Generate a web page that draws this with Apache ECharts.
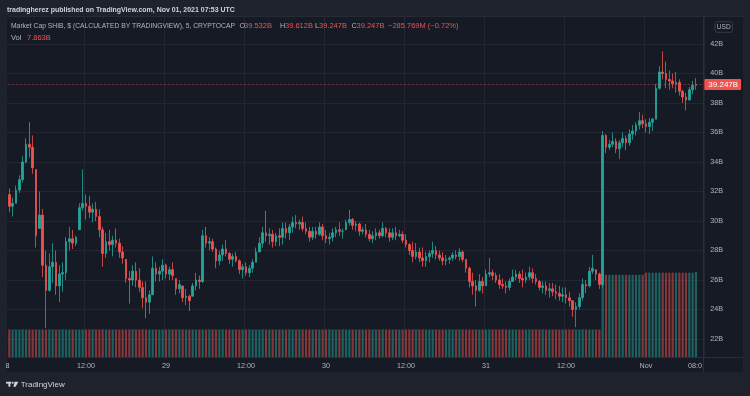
<!DOCTYPE html>
<html><head><meta charset="utf-8">
<script src="https://cdn.jsdelivr.net/npm/echarts@6/dist/echarts.min.js"></script>
<style>html,body{margin:0;padding:0;background:#1e222d;}#c{width:750px;height:396px;}</style>
</head><body><div id="c"></div>
<script>
// 30-minute candles, Oct 28 00:30 UTC .. Nov 1 07:30 UTC (values in billions USD)
const opens=[
31.8,31.0,31.2,32.1,32.8,34.0,35.2,35.0,33.5,29.5,
30.4,27.0,25.3,26.9,27.2,25.6,26.4,26.5,28.6,28.8,
28.5,29.4,30.9,31.2,31.0,30.6,30.8,30.3,29.4,27.8,
28.6,28.4,28.7,28.5,27.9,27.4,26.1,26.0,26.6,26.0,
25.5,24.8,24.5,25.0,26.8,26.4,26.6,27.0,26.4,26.7,
26.1,25.4,25.6,24.8,24.9,24.9,25.6,26.0,25.9,29.0,
28.5,28.6,28.1,27.3,27.7,28.1,27.8,27.4,27.6,27.3,
26.7,26.9,26.5,26.8,27.2,27.9,28.5,29.2,29.0,29.1,
28.6,29.0,28.9,29.5,29.2,29.6,29.9,29.8,29.9,29.5,
29.3,28.9,29.3,29.1,29.6,29.0,28.8,28.9,29.2,29.4,
29.3,29.4,29.9,30.1,29.7,29.8,29.3,29.4,29.1,28.8,
29.0,29.2,29.0,29.5,29.2,28.9,29.2,29.0,29.1,28.7,
28.4,28.0,27.6,27.9,27.5,27.3,27.6,27.8,28.0,27.7,
27.5,27.3,27.4,27.5,27.7,27.6,27.9,27.4,26.8,25.9,
25.6,25.3,25.9,25.6,26.4,26.5,26.3,26.0,25.7,25.6,
25.5,25.9,26.2,26.4,26.1,26.0,26.2,26.5,26.1,25.9,
25.5,25.6,25.3,25.4,25.2,25.1,24.9,25.0,24.8,24.6,
24.0,24.2,24.8,25.7,25.6,26.6,26.7,26.4,25.7,35.8,
35.0,35.2,35.4,34.9,35.3,35.6,35.3,35.9,36.1,36.5,
36.8,36.6,36.4,36.7,36.9,39.0,40.1,40.0,39.6,39.5,
39.3,39.4,38.8,38.4,38.2,38.9,39.2];
const highs=[
32.2,31.6,32.4,33.1,34.4,35.6,36.7,35.8,33.5,32.0,
30.8,28.0,27.8,28.5,28.0,27.0,27.2,28.9,29.6,29.4,
29.0,31.2,33.5,31.8,31.7,31.2,31.3,30.8,29.6,29.2,
29.4,29.0,29.5,28.8,28.3,27.4,26.6,27.0,27.2,26.8,
25.9,25.9,25.3,27.6,27.2,26.9,27.4,27.1,26.9,27.2,
26.1,26.0,25.6,25.4,25.0,25.8,26.5,26.3,29.4,29.6,
28.9,28.8,28.2,28.0,28.4,28.7,27.9,27.8,27.9,27.4,
27.1,27.2,27.0,27.4,28.2,28.9,29.6,30.7,29.5,29.4,
29.2,29.5,29.9,29.9,29.8,30.3,30.4,30.1,30.3,29.9,
29.6,29.6,29.6,29.9,29.8,29.4,29.2,29.5,29.6,29.9,
29.5,30.1,30.75,30.2,30.0,29.9,29.6,29.8,29.4,29.3,
29.5,29.4,29.9,29.6,29.5,29.5,29.6,29.4,29.3,29.1,
28.5,28.6,28.5,28.2,28.2,27.9,28.0,28.6,28.3,28.0,
27.9,27.7,27.6,27.9,28.0,28.15,28.0,27.4,26.9,26.5,
26.0,26.4,26.2,26.7,27.5,26.7,26.5,26.4,26.1,25.9,
26.1,26.7,26.7,26.6,26.7,26.5,26.9,26.8,26.4,26.0,
25.9,25.9,25.8,25.8,25.7,25.6,25.5,25.5,25.2,24.6,
24.5,25.1,26.1,26.0,26.9,27.7,26.7,26.5,36.1,35.9,
35.5,36.0,35.6,35.5,36.0,35.8,36.2,36.5,36.7,37.4,
37.2,36.9,37.0,37.0,39.3,40.5,41.5,40.8,40.2,40.0,
40.1,39.6,38.9,38.7,39.1,39.5,39.7];
const lows=[
30.6,30.3,31.2,31.9,32.6,33.9,34.3,33.2,28.2,29.5,
26.2,22.75,25.2,25.8,25.0,24.5,25.2,26.0,28.0,28.1,
28.3,29.4,30.7,30.1,30.2,29.9,30.0,28.9,26.9,27.5,
28.0,27.6,28.2,27.5,27.1,25.8,24.4,25.6,25.5,25.2,
24.1,23.4,23.7,25.0,25.9,25.9,26.0,26.1,26.0,26.0,
25.0,25.1,24.5,24.3,23.9,24.9,25.3,25.4,25.8,28.2,
28.0,27.9,26.8,27.0,27.3,27.6,27.1,26.9,27.2,26.4,
26.1,26.3,26.2,26.5,27.2,27.9,28.2,28.6,28.4,28.2,
28.3,28.3,28.4,28.8,28.7,29.2,29.5,29.4,29.3,29.1,
28.6,28.7,28.8,29.0,28.7,28.5,28.4,28.6,28.9,29.0,
28.8,29.4,29.7,29.4,29.3,29.0,29.1,28.9,28.6,28.5,
28.7,28.8,28.9,28.9,28.6,28.7,28.7,28.9,28.5,28.2,
27.7,27.2,27.4,27.2,26.9,26.9,27.2,27.5,27.4,27.3,
27.0,27.0,27.1,27.3,27.4,27.3,27.2,26.5,25.5,25.0,
24.2,25.2,25.1,25.6,26.2,26.0,25.8,25.4,25.4,25.1,
25.3,25.9,26.0,25.8,25.5,25.8,26.0,25.8,25.7,25.3,
25.1,25.0,24.8,24.9,24.7,24.6,24.5,24.4,24.2,23.5,
22.8,24.0,24.6,25.1,25.5,26.4,26.0,25.4,25.5,34.6,
34.8,35.0,34.6,34.2,35.0,34.8,35.1,35.5,35.8,36.2,
36.3,36.0,35.9,36.1,36.9,38.9,39.6,39.0,38.9,39.0,
38.7,38.5,38.0,37.5,38.2,38.6,38.9];
const closes=[
31.0,31.2,32.1,32.8,34.0,35.2,35.0,33.6,29.0,30.4,
27.0,25.3,26.9,27.2,25.6,26.4,26.5,28.6,28.8,28.5,
28.9,30.9,31.2,31.0,30.6,30.8,30.3,29.4,27.8,28.6,
28.4,28.7,28.5,27.9,27.5,26.1,26.0,26.6,26.0,25.5,
24.8,24.5,25.0,26.8,26.4,26.6,27.0,26.4,26.7,26.3,
25.4,25.7,24.8,24.9,24.6,25.6,26.0,25.9,29.0,28.5,
28.6,28.1,27.3,27.7,28.1,27.8,27.4,27.6,27.3,26.7,
26.9,26.5,26.8,27.2,27.9,28.5,29.2,29.0,29.1,28.6,
29.0,28.9,29.5,29.2,29.6,29.9,29.8,29.9,29.5,29.3,
28.9,29.3,29.1,29.6,29.0,28.8,28.9,29.2,29.4,29.3,
29.3,29.9,30.1,29.7,29.8,29.3,29.4,29.1,28.8,29.0,
29.2,29.0,29.5,29.2,28.9,29.2,29.0,29.1,28.7,28.4,
28.0,27.6,27.9,27.5,27.3,27.6,27.8,28.0,27.7,27.5,
27.3,27.4,27.5,27.7,27.6,27.9,27.4,26.8,25.9,25.6,
25.3,25.9,25.6,26.4,26.5,26.3,26.0,25.7,25.6,25.5,
25.9,26.2,26.4,26.1,26.0,26.2,26.5,26.1,25.9,25.5,
25.6,25.3,25.4,25.2,25.1,24.9,25.0,24.8,24.6,24.0,
24.2,24.8,25.7,25.6,26.6,26.8,26.4,25.7,35.8,35.0,
35.2,35.4,34.9,35.3,35.6,35.3,35.9,36.1,36.5,36.8,
36.6,36.4,36.7,36.9,39.0,40.1,40.0,39.6,39.5,39.3,
39.4,38.8,38.4,38.2,38.9,39.2,39.247];
const volumes=[
2.55,2.55,2.55,2.55,2.55,2.55,2.55,2.55,2.55,2.55,2.55,2.55,2.55,2.55,2.55,2.55,2.55,2.55,2.55,2.55,
2.55,2.55,2.55,2.55,2.55,2.55,2.55,2.55,2.55,2.55,2.55,2.55,2.55,2.55,2.55,2.55,2.55,2.55,2.55,2.55,
2.55,2.55,2.55,2.55,2.55,2.55,2.55,2.55,2.55,2.55,2.55,2.55,2.55,2.55,2.55,2.55,2.55,2.55,2.55,2.55,
2.55,2.55,2.55,2.55,2.55,2.55,2.55,2.55,2.55,2.55,2.55,2.55,2.55,2.55,2.55,2.55,2.55,2.55,2.55,2.55,
2.55,2.55,2.55,2.55,2.55,2.55,2.55,2.55,2.55,2.55,2.55,2.55,2.55,2.55,2.55,2.55,2.55,2.55,2.55,2.55,
2.55,2.55,2.55,2.55,2.55,2.55,2.55,2.55,2.55,2.55,2.55,2.55,2.55,2.55,2.55,2.55,2.55,2.55,2.55,2.55,
2.55,2.55,2.55,2.55,2.55,2.55,2.55,2.55,2.55,2.55,2.55,2.55,2.55,2.55,2.55,2.55,2.55,2.55,2.55,2.55,
2.55,2.55,2.55,2.55,2.55,2.55,2.55,2.55,2.55,2.55,2.55,2.55,2.55,2.55,2.55,2.55,2.55,2.55,2.55,2.55,
2.55,2.55,2.55,2.55,2.55,2.55,2.55,2.55,2.55,2.55,2.55,2.55,2.55,2.55,2.55,2.55,2.55,2.55,
7.6,7.6,7.6,7.6,7.6,7.6,7.6,7.6,7.6,7.6,7.6,7.6,7.6,
7.8,7.8,7.8,7.8,7.8,7.8,7.8,7.8,7.8,7.8,7.8,7.8,7.8,7.8,7.8,
7.863];
const tickIndex=[23,47,71,95,119,143,167,191];
const tickLabels=["12:00","29","12:00","30","12:00","31","12:00","Nov"];
const edgeTickLabels=["8","08:0"];
const lastOHLC=[39.532,39.612,39.247,39.247];
const lastChange="\u2212285.769M (\u22120.72%)";
const lastVolume="7.863B";
const lastPrice=39.247;

const N=209;
const cats=[];
const t0=Date.UTC(2021,9,28,0,30);
for(let k=0;k<N;k++){const d=new Date(t0+k*1800000);cats.push(d.toISOString().slice(5,16));}
const candles=opens.map((o,i)=>[o,closes[i],lows[i],highs[i]]);
const UP='#26a69a',DN='#ef5350';
const volData=volumes.map((v,i)=>({value:v,itemStyle:{color:closes[i]>=opens[i]?'rgba(38,166,154,0.5)':'rgba(239,83,80,0.5)'}}));

const FONT='"Liberation Sans", Arial, sans-serif';
const GRAY='#b2b5be';
const GRID='#222633';
const gl=7.667, gw=696.667;

function txt(x,y,text,fill,size,opts){
  opts=opts||{};
  return {type:'text',x:x,y:y,z:50,scaleX:opts.sx||1,
    style:{text:text,fill:fill,font:(opts.bold?'bold ':'')+size+'px '+FONT,align:opts.align||'left',verticalAlign:'middle'}};
}

const chart=echarts.init(document.getElementById('c'),null,{renderer:'canvas'});
chart.setOption({
  animation:false,
  backgroundColor:'#1e222d',
  grid:[
    {left:gl,width:gw,top:14.5,height:354},
    {left:gl,width:gw,top:17,height:340}
  ],
  xAxis:[
    {type:'category',gridIndex:0,data:cats,boundaryGap:true,show:false},
    {type:'category',gridIndex:1,data:cats,boundaryGap:true,
     axisLine:{show:false},axisTick:{show:false},
     axisLabel:{color:GRAY,fontSize:7.2,fontFamily:FONT,margin:6,
       interval:(i)=>tickIndex.indexOf(i)>=0,
       formatter:(v,i)=>{const j=tickIndex.indexOf(i);return j>=0?tickLabels[j]:'';}},
     splitLine:{show:true,interval:(i)=>tickIndex.indexOf(i)>=0,lineStyle:{color:GRID,width:1}}}
  ],
  yAxis:[
    {type:'value',gridIndex:0,position:'right',min:20,max:44,interval:2,
     axisLine:{show:false},axisTick:{show:false},
     axisLabel:{color:GRAY,fontSize:7.2,fontFamily:FONT,margin:6,showMinLabel:false,showMaxLabel:false,formatter:(v)=>v+'B'},
     splitLine:{show:true,showMinLine:false,showMaxLine:false,lineStyle:{color:GRID,width:1}}},
    {type:'value',gridIndex:1,min:0,max:31.45,show:false,splitLine:{show:false}}
  ],
  series:[
    {type:'bar',name:'Vol',xAxisIndex:1,yAxisIndex:1,data:volData,barWidth:2.2,z:1},
    {type:'candlestick',name:'SHIB',xAxisIndex:0,yAxisIndex:0,data:candles,barWidth:1.9,z:3,
     itemStyle:{color:UP,color0:DN,borderColor:UP,borderColor0:DN,borderWidth:0.8},
     markLine:{silent:true,symbol:['none','none'],
       lineStyle:{color:'rgba(239,83,80,0.45)',type:[2,2],width:1},
       label:{show:true,position:'end',distance:0,formatter:lastPrice.toFixed(3)+'B',
         backgroundColor:'#f05350',color:'#ffffff',fontSize:8,fontFamily:FONT,padding:[2,3,1,4],borderRadius:1},
       data:[{yAxis:lastPrice}]}}
  ],
  graphic:[
    {type:'rect',z:-10,shape:{x:7,y:17,width:736,height:355},style:{fill:'#161a25'}},
    {type:'line',z:40,shape:{x1:7,y1:357.5,x2:743,y2:357.5},style:{stroke:'#2a2e39',lineWidth:1}},
    {type:'line',z:40,shape:{x1:703.5,y1:17,x2:703.5,y2:372},style:{stroke:'#2a2e39',lineWidth:1}},
    {type:'line',z:40,shape:{x1:7,y1:16.5,x2:743,y2:16.5},style:{stroke:'#262a35',lineWidth:1}},
    txt(7,9.5,'tradingherez published on TradingView.com, Nov 01, 2021 07:53 UTC','#d1d4dc',8,{bold:true,sx:0.87}),
    txt(11,26.3,'Market Cap SHIB, $ (CALCULATED BY TRADINGVIEW), 5, CRYPTOCAP',GRAY,7.5,{sx:0.9}),
    txt(239.6,26.3,'O',GRAY,7.3),
    txt(244,26.3,lastOHLC[0].toFixed(3)+'B',DN,7.5),
    txt(280,26.3,'H',GRAY,7.3),
    txt(285,26.3,lastOHLC[1].toFixed(3)+'B',DN,7.5),
    txt(315,26.3,'L',GRAY,7.3),
    txt(319,26.3,lastOHLC[2].toFixed(3)+'B',DN,7.5),
    txt(351.5,26.3,'C',GRAY,7.3),
    txt(356.5,26.3,lastOHLC[3].toFixed(3)+'B',DN,7.5),
    txt(388,26.3,lastChange,DN,7.5),
    txt(11,37.8,'Vol',GRAY,7.5),
    txt(27,37.8,lastVolume,DN,7.5),
    {type:'rect',z:45,shape:{x:715,y:21.7,width:17.5,height:10.6,r:2},style:{fill:'#161a25',stroke:'#363a45',lineWidth:1}},
    txt(723.8,27,'USD',GRAY,6.6,{align:'center'}),
    txt(5.6,365.7,edgeTickLabels[0],GRAY,7.2),
    txt(688,365.7,edgeTickLabels[1],GRAY,7.2),
    {type:'rect',z:50,shape:{x:6,y:381.8,width:5.2,height:1.8},style:{fill:'#d1d4dc'}},
    {type:'rect',z:50,shape:{x:8.4,y:381.8,width:2,height:4.9},style:{fill:'#d1d4dc'}},
    {type:'circle',z:50,shape:{cx:12.7,cy:382.8,r:1},style:{fill:'#d1d4dc'}},
    {type:'polygon',z:50,shape:{points:[[14.6,381.8],[18.4,381.8],[15.6,386.7],[13.4,386.7]]},style:{fill:'#d1d4dc'}},
    txt(20.7,384.3,'TradingView','#d1d4dc',8)
  ]
});
</script>
</body></html>
